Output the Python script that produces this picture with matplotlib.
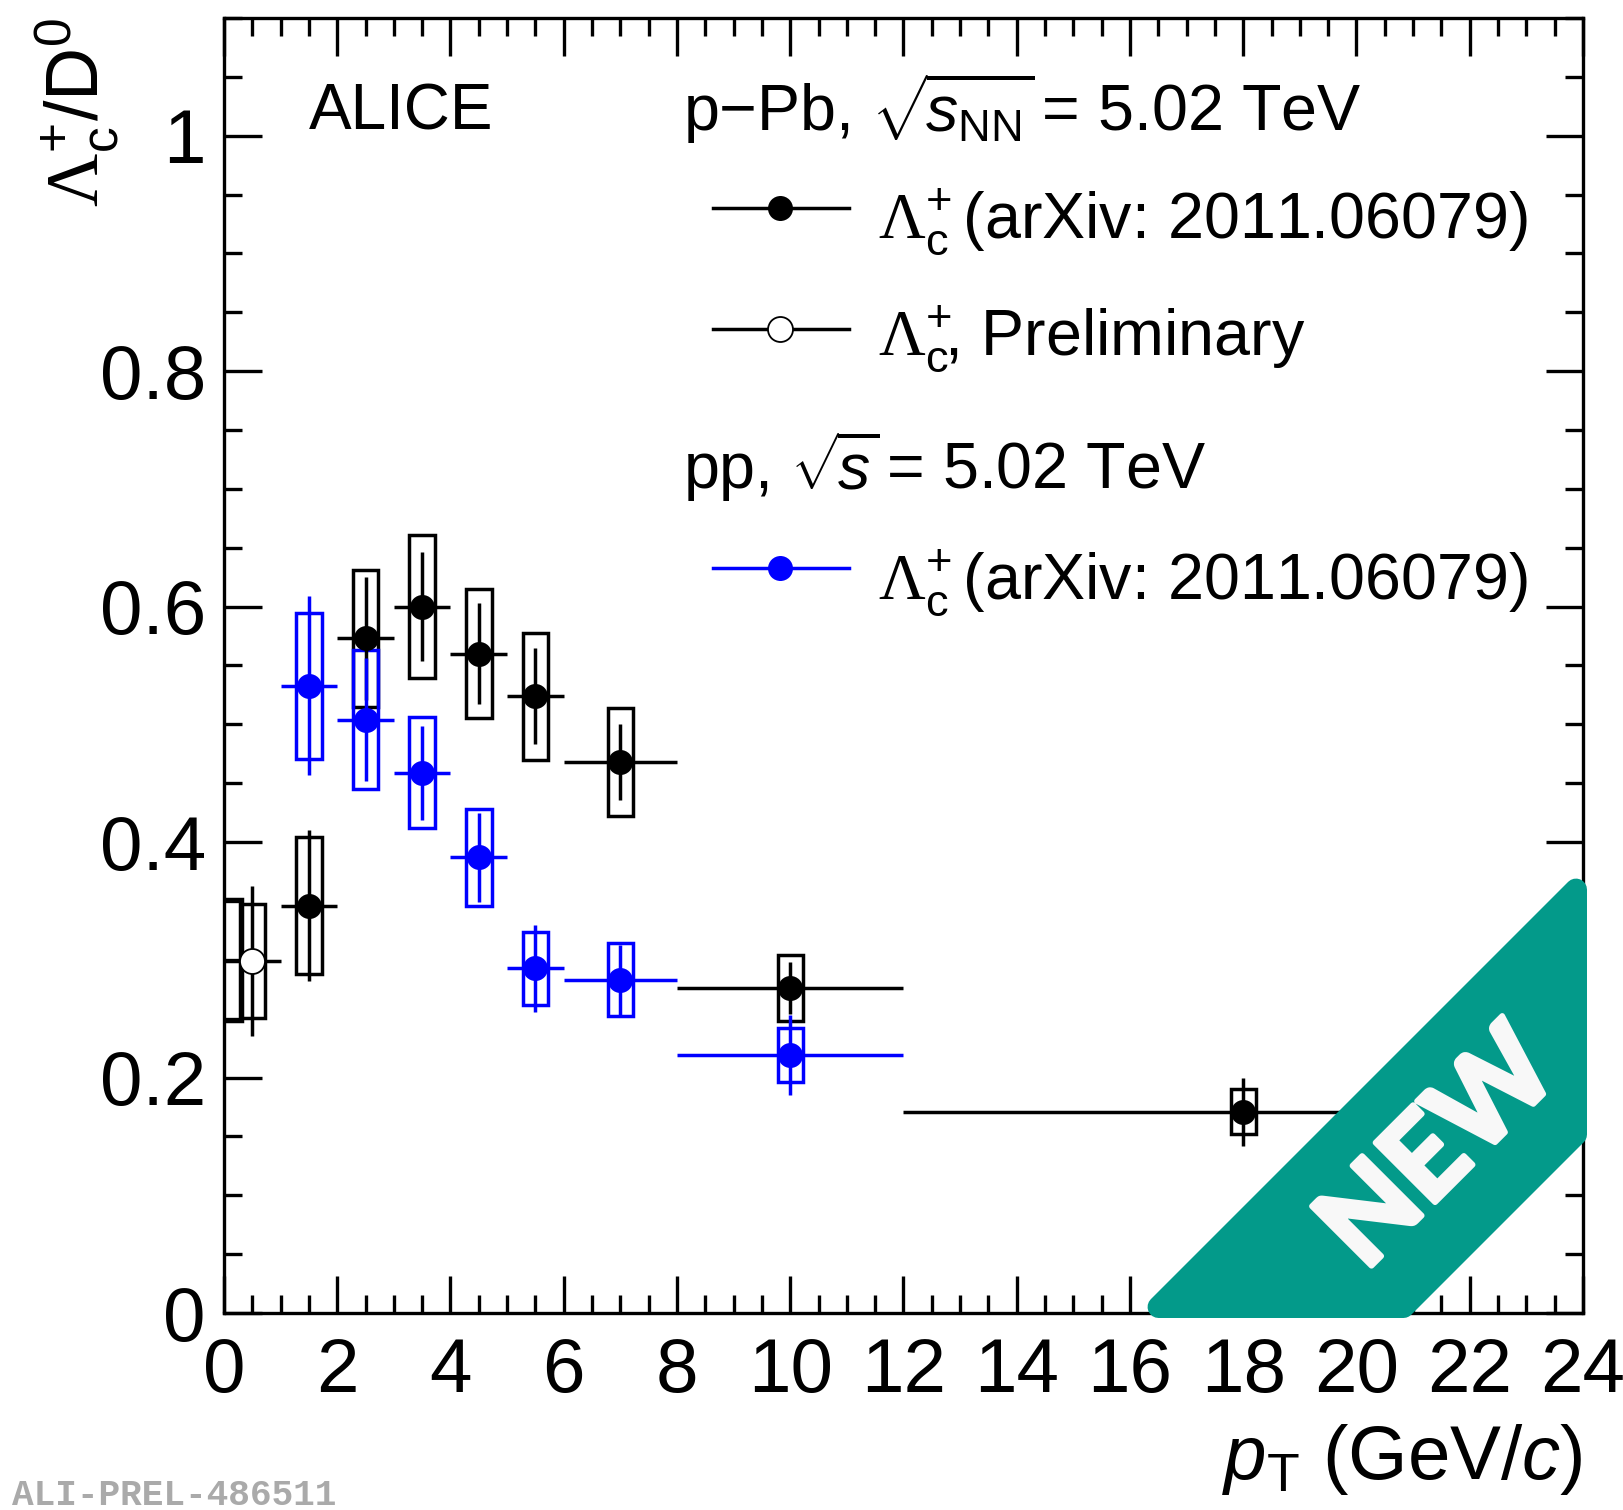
import numpy as np
import matplotlib
matplotlib.use("Agg")
import matplotlib.pyplot as plt
import matplotlib.patheffects as pe
from matplotlib.patches import Rectangle, Polygon
from matplotlib.ticker import MultipleLocator, FuncFormatter
from matplotlib.transforms import Affine2D

plt.rcParams['font.family'] = ['Liberation Sans', 'DejaVu Sans']
plt.rcParams['mathtext.fontset'] = 'custom'
plt.rcParams['mathtext.rm'] = 'Liberation Sans'
plt.rcParams['mathtext.it'] = 'Liberation Sans:italic'
plt.rcParams['mathtext.bf'] = 'Liberation Sans:bold'
plt.rcParams['mathtext.sf'] = 'Liberation Serif'

# =========================================================
# DATA: Lambda_c+ / D0 ratio vs pT
# =========================================================

# p-Pb, published (arXiv: 2011.06079)
ppb_pt = [1.5, 2.5, 3.5, 4.5, 5.5, 7.0, 10.0, 18.0]
ppb_lo = [1, 2, 3, 4, 5, 6, 8, 12]
ppb_hi = [2, 3, 4, 5, 6, 8, 12, 24]
ppb_ratio = [0.346, 0.573, 0.600, 0.560, 0.524, 0.468, 0.276, 0.171]
ppb_stat = [0.064, 0.052, 0.046, 0.043, 0.041, 0.032, 0.022, 0.029]
ppb_syst = [0.058, 0.058, 0.061, 0.055, 0.054, 0.046, 0.028, 0.019]

# p-Pb, preliminary lowest bin
prel_pt = [0.5]
prel_lo = [0]
prel_hi = [1]
prel_ratio = [0.299]
prel_stat = [0.064]
prel_syst = [0.048]

# extra systematic box at the low edge
edge_pt = [0.1]
edge_ratio = [0.300]
edge_syst = [0.052]

# pp (arXiv: 2011.06079)
pp_pt = [1.5, 2.5, 3.5, 4.5, 5.5, 7.0, 10.0]
pp_lo = [1, 2, 3, 4, 5, 6, 8]
pp_hi = [2, 3, 4, 5, 6, 8, 12]
pp_ratio = [0.533, 0.504, 0.459, 0.387, 0.293, 0.283, 0.219]
pp_stat = [0.076, 0.052, 0.040, 0.038, 0.037, 0.030, 0.034]
pp_syst = [0.062, 0.059, 0.047, 0.041, 0.031, 0.031, 0.023]

BOX_W = 0.45
LW = 2.5
MS = 18
TEAL = '#039a8a'
LEG_FS = 46.5
LC = r"$\mathsf{\Lambda}_{\rm c}^{+}\!$"

W, H = 1624, 1510
fig = plt.figure(figsize=(W / 100, H / 100), dpi=100)
ax = fig.add_axes([224 / W, 1 - 1313 / H, 1359 / W, 1295 / H])


def draw_boxes(pt, val, syst, color):
    for x, y, s in zip(pt, val, syst):
        ax.add_patch(Rectangle((x - BOX_W / 2, y - s), BOX_W, 2 * s,
                               fill=False, ec=color, lw=LW, zorder=3))


def draw_points(pt, lo, hi, val, stat, color, face, mew=0):
    pt = np.array(pt)
    xerr = [pt - np.array(lo), np.array(hi) - pt]
    ax.errorbar(pt, val, xerr=xerr, yerr=stat, fmt='o', color=color,
                ms=MS, mfc=face, mec=color, mew=mew, elinewidth=LW,
                capsize=0, zorder=4)


draw_boxes(ppb_pt, ppb_ratio, ppb_syst, 'black')
draw_boxes(prel_pt, prel_ratio, prel_syst, 'black')
draw_boxes(edge_pt, edge_ratio, edge_syst, 'black')
draw_points(ppb_pt, ppb_lo, ppb_hi, ppb_ratio, ppb_stat, 'black', 'black')
draw_points(prel_pt, prel_lo, prel_hi, prel_ratio, prel_stat, 'black', 'white', mew=1.3)

draw_boxes(pp_pt, pp_ratio, pp_syst, 'blue')
draw_points(pp_pt, pp_lo, pp_hi, pp_ratio, pp_stat, 'blue', 'blue')

# =========================================================
# AXES
# =========================================================

ax.set_xlim(0, 24)
ax.set_ylim(0, 1.1)
ax.xaxis.set_major_locator(MultipleLocator(2))
ax.xaxis.set_minor_locator(MultipleLocator(0.5))
ax.yaxis.set_major_locator(MultipleLocator(0.2))
ax.yaxis.set_minor_locator(MultipleLocator(0.05))
ax.yaxis.set_major_formatter(FuncFormatter(lambda v, _: f"{v:g}"))
ax.tick_params(which='both', direction='in', top=True, right=True,
               width=2.4, labelsize=55)
ax.tick_params(which='major', length=27)
ax.tick_params(which='minor', length=13)
ax.tick_params(axis='x', pad=17)
ax.tick_params(axis='y', pad=13)
for sp in ax.spines.values():
    sp.set_linewidth(2.4)

ax.set_xlabel(r"$p_{\rm T}$ (GeV/$c$)", fontsize=55, loc='right')
ax.xaxis.set_label_coords(1.0, -0.084)
ax.set_ylabel(r"$\mathsf{\Lambda}_{\rm c}^{+}$/D$^{0}$", fontsize=53, loc='top')
ax.yaxis.set_label_coords(-0.076, 1.0)

# =========================================================
# LEGEND (hand placed, ROOT style)
# =========================================================

ax.text(0.0623, 0.9139, "ALICE", fontsize=46, transform=ax.transAxes, va='baseline')

ax.text(0.338, 0.9125, r"p$-$Pb, $\sqrt{\!s_{\rm NN}}\!$ = 5.02 TeV", fontsize=LEG_FS,
        transform=ax.transAxes, va='baseline')
ax.text(0.338, 0.6364, r"pp, $\sqrt{\!s}\!$ = 5.02 TeV", fontsize=LEG_FS,
        transform=ax.transAxes, va='baseline')

entries = [
    (0.8533, 0.830, 'black', 'black', 0, LC + " (arXiv: 2011.06079)"),
    (0.7595, 0.7398, 'black', 'white', 1.3, LC + ", Preliminary"),
    (0.5756, 0.5517, 'blue', 'blue', 0, LC + " (arXiv: 2011.06079)"),
]
for ly, ty, col, face, mew, label in entries:
    ax.plot([0.3595, 0.4599], [ly, ly], color=col, lw=LW, transform=ax.transAxes,
            clip_on=False)
    ax.plot([0.409], [ly], 'o', ms=MS, mfc=face, mec=col, mew=mew,
            transform=ax.transAxes, clip_on=False)
    ax.text(0.4812, ty, label, fontsize=LEG_FS, transform=ax.transAxes, va='baseline')

# =========================================================
# "NEW" corner badge (figure pixels, y pointing down)
# =========================================================

px = Affine2D().scale(1 / W, -1 / H).translate(0, 1) + fig.transFigure
edge_in = 2450      # x + y along the upper-left edge
edge_out = 2726     # x + y along the lower-right edge
b_right = 1587
b_bottom = 1318
r = 11
s2 = np.sqrt(2)
corners = [
    (edge_in + r * s2 - (b_bottom - r), b_bottom - r),
    (b_right - r, edge_in + r * s2 - (b_right - r)),
    (b_right - r, edge_out - r * s2 - (b_right - r)),
    (edge_out - r * s2 - (b_bottom - r), b_bottom - r),
]
badge = Polygon(corners, closed=True, fc=TEAL, ec=TEAL, lw=2 * r * 0.72,
                joinstyle='round', transform=px, clip_on=False, zorder=10)
ax.add_patch(badge)
ax.text(1440, 1150, "NEW", transform=px, rotation=45, rotation_mode='anchor',
        ha='center', va='center', fontsize=84, fontweight='bold',
        family=['Lato', 'DejaVu Sans'], color='#f8f8f8', zorder=11,
        path_effects=[pe.withStroke(linewidth=4, foreground='#f8f8f8',
                                    joinstyle='round', capstyle='round')])

fig.text(0.0075, 0.0035, "ALI-PREL-486511", family=['Liberation Mono', 'DejaVu Sans Mono'],
         fontweight='bold', fontsize=26, color='#aaaaaa', va='baseline')

fig.savefig("out.png", dpi=100)
